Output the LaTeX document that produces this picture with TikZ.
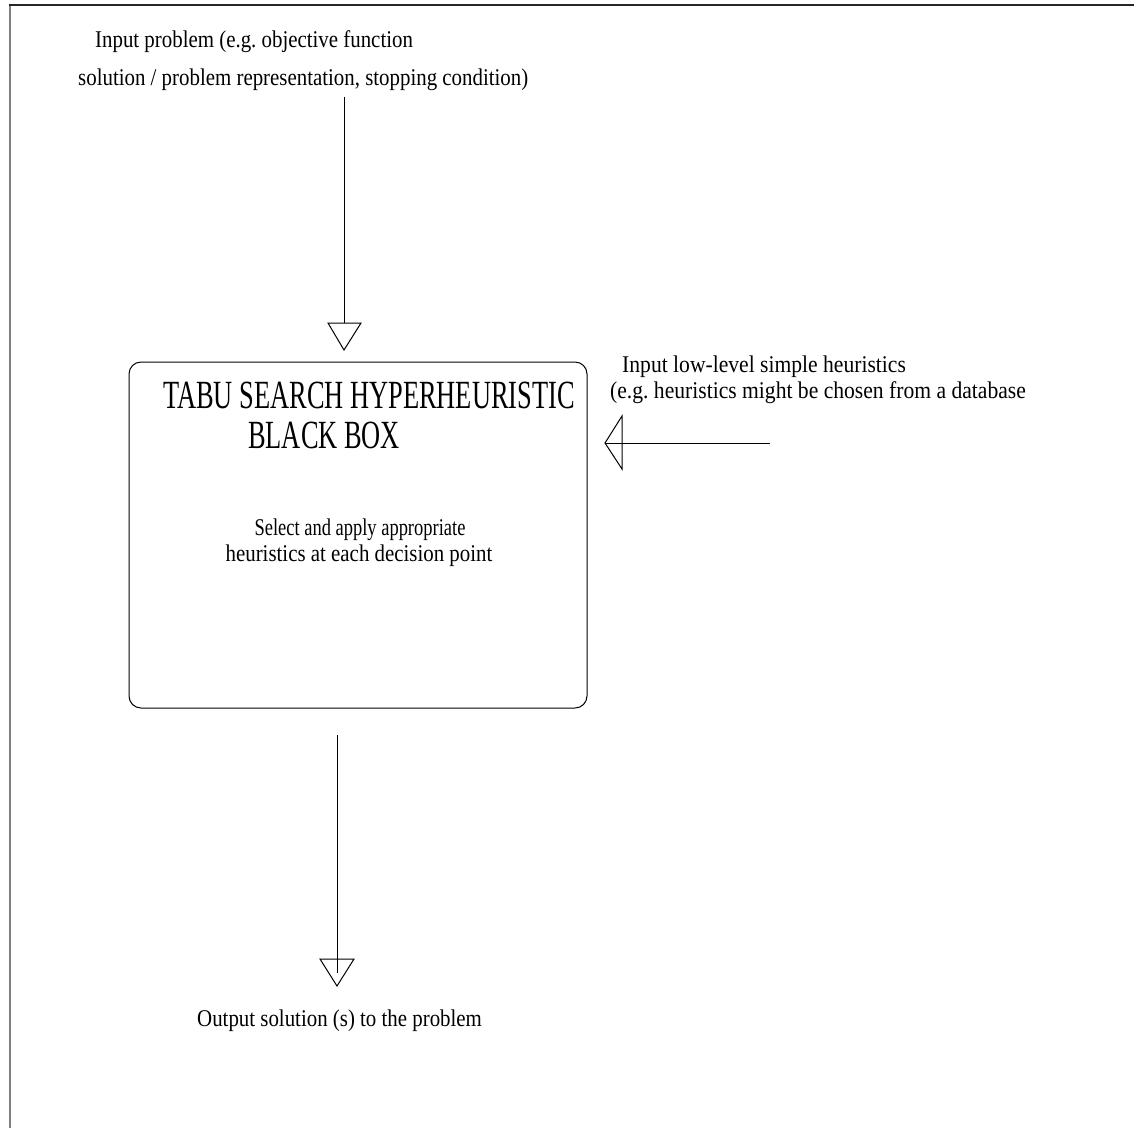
\documentclass[tikz,border=0pt]{standalone}
\usepackage{fontspec}
\setmainfont{Liberation Serif}[FakeStretch=0.87]
\newfontfamily\rfont{Liberation Serif}[FakeStretch=0.90]
\newfontfamily\sfont{Liberation Serif}[FakeStretch=0.77]
\newfontfamily\titlefont{Liberation Serif}[FakeStretch=0.66]
\frenchspacing
\begin{document}
\begin{tikzpicture}[x=1pt,y=-1pt,
  txt/.style={inner sep=0pt, anchor=base west, font=\fontsize{24}{28}\selectfont},
  ttl/.style={inner sep=0pt, anchor=base west, font=\titlefont\fontsize{40}{44}\selectfont},
  conn/.style={line width=1pt, black},
  tri/.style={line width=1pt, black, line join=miter}]
\useasboundingbox (0,0) rectangle (1134,1128);
% frame
\draw[gray, line width=1.5pt] (10,1128) -- (10,5);
\draw[black!85, line width=2pt] (9.25,5) -- (1134,5);
% top texts
\node[txt] (t1) at (95,47) {Input problem (e.g. objective function};
\node[txt] (t2) at (78,85) {solution / problem representation, stopping condition)};
% box
\node[draw, line width=1pt, rounded corners=12pt, minimum width=458pt, minimum height=346pt, inner sep=0pt] (box) at (358,535) {};
\node[ttl] (h1) at (163,408) {TABU SEARCH HYPERHEURISTIC};
\node[ttl] (h2) at (248,448) {BLACK BOX};
\node[txt, anchor=base, font=\sfont\fontsize{24}{28}\selectfont] (s1) at (360,535) {Select and apply appropriate};
\node[txt, anchor=base] (s2) at (359,561) {heuristics at each decision point};
% right texts
\node[txt, font=\rfont\fontsize{24}{28}\selectfont] (r1) at (622,372) {Input low-level simple heuristics};
\node[txt, font=\rfont\fontsize{24}{28}\selectfont] (r2) at (610,398) {(e.g. heuristics might be chosen from a database};
% bottom text
\node[txt] (o1) at (197,1026) {Output solution (s) to the problem};
% top arrow
\coordinate (a1s) at (344,97);
\coordinate (a1e) at (344,323);
\coordinate (a1l) at (328,323);
\coordinate (a1r) at (361,323);
\coordinate (a1t) at (344,350);
\draw[conn] (a1s) -- (a1e);
\draw[tri] (a1l) -- (a1r) -- (a1t) -- cycle;
% right arrow
\coordinate (a2s) at (770,443);
\coordinate (a2t) at (605,443);
\coordinate (a2u) at (622,416);
\coordinate (a2d) at (622,469);
\draw[conn] (a2s) -- (a2t);
\draw[tri] (a2t) -- (a2u) -- (a2d) -- cycle;
% bottom arrow
\coordinate (a3s) at (337,735);
\coordinate (a3e) at (337,973);
\coordinate (a3l) at (320,959);
\coordinate (a3r) at (354,959);
\coordinate (a3t) at (337,986);
\draw[conn] (a3s) -- (a3e);
\draw[tri] (a3l) -- (a3r) -- (a3t) -- cycle;
\end{tikzpicture}
\end{document}
